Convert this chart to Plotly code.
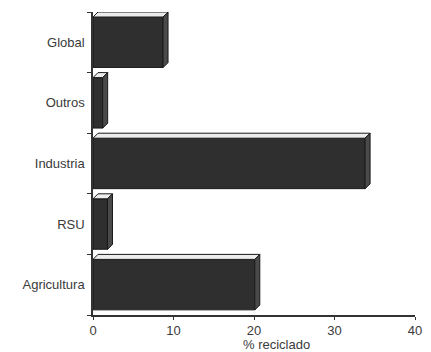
import plotly.graph_objects as go

categories = ["Agricultura", "RSU", "Industria", "Outros", "Global"]
values = [20.1, 1.8, 33.8, 1.2, 8.7]
x_ticks = [0, 10, 20, 30, 40]
x_title = "% reciclado"

W, H = 431, 352
ML, MR, MT, MB = 93, 16, 12, 37
x_range = [0, 40]
y_range = [-0.5, 4.5]

pw = W - ML - MR
ph = H - MT - MB
dx = 5 * (x_range[1] - x_range[0]) / pw   # depth in data units
dy = 5 * (y_range[1] - y_range[0]) / ph
half = 0.5 - dy  # front face half-height

pos = list(range(len(categories)))
front_col = "#2f2f2f"
top_col = "#ececec"
side_col = "#4a4a4a"
edge = "#1a1a1a"

fig = go.Figure()
fig.add_trace(go.Bar(
    y=pos, x=values, orientation="h", width=2 * half - 0.005,
    marker=dict(color=front_col, line=dict(color=edge, width=1)),
    showlegend=False, hoverinfo="skip",
))

shapes = []
for p, v in zip(pos, values):
    top = p + half
    shapes.append(dict(
        type="path", xref="x", yref="y",
        path=f"M 0,{top} L {v},{top} L {v+dx},{top+dy} L {dx},{top+dy} Z",
        fillcolor=top_col, line=dict(color=edge, width=1), layer="above"))
    shapes.append(dict(
        type="path", xref="x", yref="y",
        path=f"M {v},{p-half} L {v+dx},{p-half+dy} L {v+dx},{top+dy} L {v},{top} Z",
        fillcolor=side_col, line=dict(color=edge, width=1), layer="above"))

fig.update_layout(
    width=W, height=H,
    margin=dict(l=ML, r=MR, t=MT, b=MB),
    paper_bgcolor="white", plot_bgcolor="white",
    font=dict(family="Liberation Sans, Arial, sans-serif", size=13, color="#3a3a3a"),
    shapes=shapes,
    xaxis=dict(
        range=x_range, tickvals=x_ticks, ticks="outside", ticklen=3,
        tickcolor="#333", showline=True, linecolor="#333", linewidth=1.5,
        showgrid=False, zeroline=False, tickfont=dict(size=13), automargin=False,
        ticklabelstandoff=0,
    ),
    yaxis=dict(
        range=y_range, tickvals=pos, ticktext=categories, ticks="",
        showline=True, linecolor="#333", linewidth=1.5, automargin=False,
        showgrid=False, zeroline=False, ticklabelstandoff=4,
        minor=dict(tickvals=[p - 0.5 for p in pos] + [pos[-1] + 0.5],
                   ticks="outside", ticklen=4, tickcolor="#333"),
    ),
    annotations=[dict(
        text=x_title, xref="paper", yref="paper",
        x=(276 - ML) / pw, y=-(344 - MT - ph) / ph,
        showarrow=False, font=dict(size=13), yanchor="middle", xanchor="center",
    )],
)

fig.write_html("out.html", config={"displayModeBar": False},
               post_script="document.body.style.margin='0';")
